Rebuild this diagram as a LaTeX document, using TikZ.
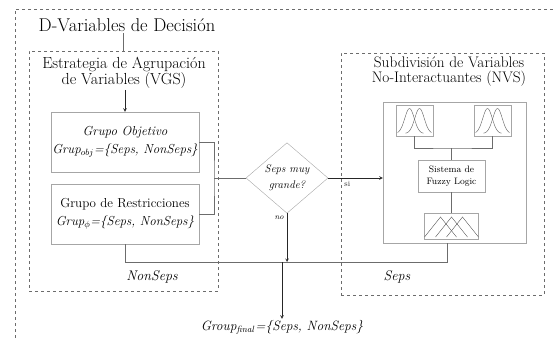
\documentclass[tikz,border=0pt]{standalone}
\usepackage{xcolor}
\usepackage{tikz}
\usetikzlibrary{shapes,arrows,positioning,fit,backgrounds}

\begin{document}
\begin{tikzpicture}[
    x=1pt, y=-1pt,
    box/.style={draw=gray!70, minimum width=148pt, minimum height=60pt, align=center, inner sep=1pt, font=\fontsize{13}{18}\selectfont},
    group/.style={draw=gray!85!black, dashed, line width=0.6pt, inner sep=0pt},
    heading/.style={align=center, inner sep=1pt, font=\fontsize{16}{15}\selectfont},
    link/.style={draw=gray!85!black, line width=0.6pt},
    arrow/.style={->, >=stealth, black!85, line width=0.6pt},
    mfbox/.style={draw=gray!70, minimum width=37pt, minimum height=31pt, inner sep=0pt},
    mfline/.style={gray!80!black, line width=0.45pt},
    tag/.style={font=\fontsize{14}{16}\selectfont\itshape, inner sep=1pt}
]
    \useasboundingbox (0,0) rectangle (553,340);

    % Outer frame (runs off the page)
    \draw[group] (553,9) -| (15,340);

    % Input variables
    \node[heading, font=\fontsize{18.5}{15}\selectfont] (dvar) at (127,25) {D-Variables de Decisión};

    % Grouping strategy (VGS)
    \node[group, minimum width=189pt, minimum height=240pt] (vgs) at (123.5,171) {};
    \node[heading] (vgstitle) at (124,73) {Estrategia de Agrupación\\de Variables (VGS)};
    \node[box, font=\fontsize{13}{18}\selectfont\itshape] (obj) at (125,142) {Grupo Objetivo\\Grup$_{obj}$=\{Seps, NonSeps\}};
    \node[box] (res) at (125,214) {Grupo de Restricciones\\\textit{Grup$_{\phi}$=\{Seps, NonSeps\}}};
    \node[tag] (nonseps) at (152,277) {NonSeps};

    % Decision
    \node[diamond, draw=gray!70, minimum width=82pt, minimum height=67pt, inner sep=0pt, align=center,
          font=\fontsize{11}{16}\selectfont\itshape] (dec) at (287,178) {Seps muy\\grande?};
    \node[font=\fontsize{8}{9}\selectfont\itshape, inner sep=1pt, below left=1pt and 2pt of dec.south] (no) {no};

    % Non-interacting subdivision (NVS)
    \node[group, minimum width=203pt, minimum height=242pt] (nvs) at (442.5,174) {};
    \node[heading, font=\fontsize{15.3}{15}\selectfont] (nvstitle) at (449,72) {Subdivisión de Variables\\No-Interactuantes (NVS)};
    \node[draw=gray!70, minimum width=143pt, minimum height=141pt] (fuzzy) at (454.5,172.5) {};
    \node[mfbox] (mf1) at (414.5,120.5) {};
    \node[mfbox] (mf2) at (492.5,120.5) {};
    \node[draw=gray!70, minimum width=67pt, minimum height=32pt, inner sep=1pt, align=center,
          font=\fontsize{9.3}{12}\selectfont] (fls) at (451.5,176) {Sistema de\\Fuzzy Logic};
    \node[mfbox, minimum width=54pt, minimum height=26pt] (out) at (451.5,226) {};
    \node[tag] (seps) at (397,277) {Seps};

    % Result
    \node[font=\fontsize{13.5}{16}\selectfont\itshape, inner sep=1pt] (final) at (282,327) {Group$_{\mathit{final}}$=\{Seps, NonSeps\}};

    % Membership functions
    \foreach \m in {mf1,mf2}{
        \begin{scope}[shift={(\m.center)}]
            \draw[mfline] plot[domain=-17:9, samples=40, smooth] (\x,{13-25*exp(-1*pow(\x+5,2)/45)});
            \draw[mfline] plot[domain=-9:17, samples=40, smooth] (\x,{13-25*exp(-1*pow(\x-5,2)/45)});
        \end{scope}
    }
    \begin{scope}[shift={(out.center)}]
        \foreach \p in {-11,0,11}
            \draw[mfline] (\p-16,11) -- (\p,-9) -- (\p+16,11);
    \end{scope}

    % Connections
    \coordinate (brk) at (214,178);
    \coordinate (merge) at (447,262);
    \coordinate (mfjoin) at (451.5,148);
    \draw[link] (vgs.north |- dvar.south) -- (vgs.north);
    \draw[arrow] (obj.north |- vgstitle.south) -- (obj.north);
    \draw[link] (obj.east) -| (brk) |- (res.east);
    \draw[link] (brk) -- (dec.west);
    \draw[arrow] (dec.east) -- (dec.east -| fuzzy.west)
        node[pos=0.35, below, font=\fontsize{8}{9}\selectfont] {si};
    \draw[arrow] (dec.south) -- (dec.south |- merge);
    \draw[link] (res.south) |- (merge) -- (merge |- fuzzy.south);
    \draw[arrow] (final.north |- merge) -- (final.north);
    \draw[link] (mf1.south) |- (mfjoin) -| (mf2.south);
    \draw[link] (mfjoin) -- (fls.north);
    \draw[link] (fls.south) -- (out.north);
\end{tikzpicture}
\end{document}
